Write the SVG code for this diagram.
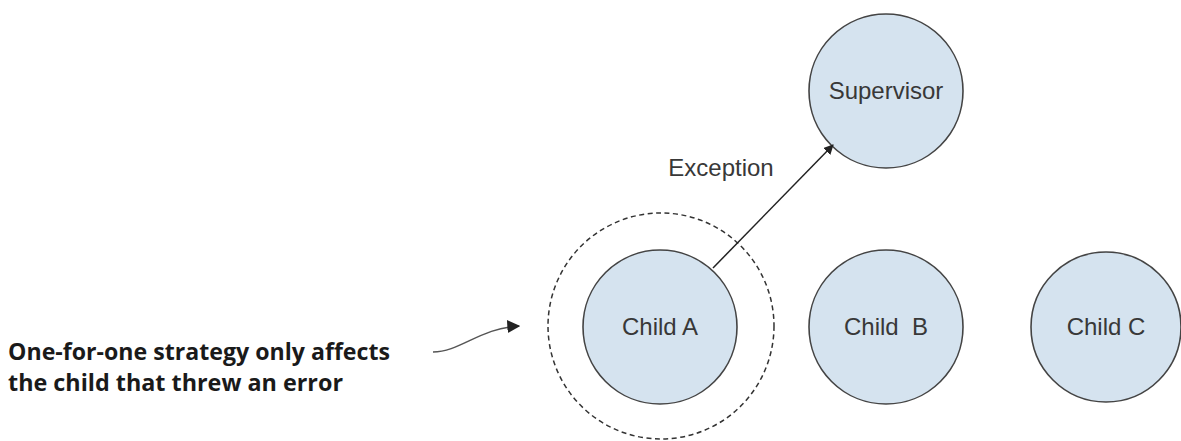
<svg xmlns="http://www.w3.org/2000/svg" width="1181" height="441" viewBox="0 0 1181 441">
  <defs>
    <marker id="head" viewBox="0 0 10 10" refX="9" refY="5" markerWidth="10" markerHeight="10" markerUnits="userSpaceOnUse" orient="auto">
      <path d="M0,0 L10,5 L0,10 z" fill="#222"/>
    </marker>
    <marker id="head-lg" viewBox="0 0 10 10" refX="9" refY="5" markerWidth="13" markerHeight="13" markerUnits="userSpaceOnUse" orient="auto">
      <path d="M0,0 L10,5 L0,10 z" fill="#222"/>
    </marker>
  </defs>
  <style>
    .actor { fill: #d5e3ef; stroke: #444; stroke-width: 1.6; }
    .scope { fill: none; stroke: #333; stroke-width: 1.5; stroke-dasharray: 5 3.5; }
    .label { font-family: "Liberation Sans", Arial, sans-serif; font-size: 24px; fill: #383838; text-anchor: middle; }
    .note { font-family: "Open Sans", "Liberation Sans", sans-serif; font-weight: bold; font-size: 24px; fill: #1a1a1a; }
    .wire { fill: none; stroke: #222; stroke-width: 1.5; }
    .leader { fill: none; stroke: #555; stroke-width: 1.5; }
  </style>
  <rect width="1181" height="441" fill="#fff"/>

  <g id="supervisor">
    <circle class="actor" cx="886" cy="91" r="77"/>
    <text class="label" x="886" y="99">Supervisor</text>
  </g>

  <g id="scope-a">
    <circle class="scope" cx="661" cy="326" r="113"/>
  </g>

  <g id="child-a">
    <circle class="actor" cx="660" cy="327" r="77"/>
    <text class="label" x="660" y="335">Child A</text>
  </g>

  <g id="child-b">
    <circle class="actor" cx="886" cy="327" r="77"/>
    <text class="label" x="886" y="335" xml:space="preserve">Child  B</text>
  </g>

  <g id="child-c">
    <circle class="actor" cx="1106" cy="327" r="75"/>
    <text class="label" x="1106" y="335">Child C</text>
  </g>

  <g id="connectors">
    <line class="wire" x1="713" y1="268" x2="833" y2="145" marker-end="url(#head)"/>
    <text class="label" x="721" y="176">Exception</text>
    <path class="leader" d="M433,352 C460,352 480,328 519,326" marker-end="url(#head-lg)"/>
  </g>

  <g id="note">
    <text class="note" x="8" y="360" textLength="382" lengthAdjust="spacingAndGlyphs">One-for-one strategy only affects</text>
    <text class="note" x="8" y="391" textLength="335" lengthAdjust="spacingAndGlyphs">the child that threw an error</text>
  </g>
</svg>
